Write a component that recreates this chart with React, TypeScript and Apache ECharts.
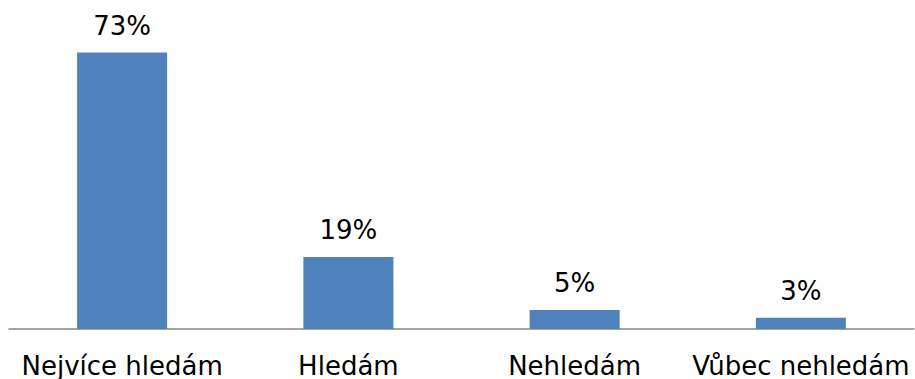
import React, { useEffect, useRef } from "react";
import * as echarts from "echarts";

const categories = ["Nejvíce hledám", "Hledám", "Nehledám", "Vůbec nehledám"];
const shares = [73, 19, 5, 3];

export default function App() {
  const ref = useRef<HTMLDivElement>(null);

  useEffect(() => {
    if (!ref.current) return;
    const chart = echarts.init(ref.current, null, { renderer: "svg" });
    chart.setOption({
      animation: false,
      backgroundColor: "#ffffff",
      grid: { left: 9, right: 1, top: 26, bottom: 50, containLabel: false },
      xAxis: {
        type: "category",
        data: categories,
        axisLine: { lineStyle: { color: "#868686", width: 1.5 } },
        axisTick: { show: false },
        axisLabel: {
          color: "#000000",
          fontFamily: "Verdana, 'DejaVu Sans', sans-serif",
          fontSize: 26,
          margin: 24,
          interval: 0,
        },
      },
      yAxis: {
        type: "value",
        min: 0,
        max: 80,
        show: false,
        splitLine: { show: false },
      },
      series: [
        {
          type: "bar",
          data: shares,
          barWidth: 90,
          itemStyle: { color: "#4F81BD" },
          label: {
            show: true,
            position: "top",
            distance: 14,
            formatter: "{c}%",
            color: "#000000",
            fontFamily: "Verdana, 'DejaVu Sans', sans-serif",
            fontSize: 26,
          },
        },
      ],
    });
    return () => chart.dispose();
  }, []);

  return (
    <div style={{ position: "fixed", left: 0, top: 0 }}>
      <div ref={ref} style={{ width: 915, height: 379 }} />
    </div>
  );
}
